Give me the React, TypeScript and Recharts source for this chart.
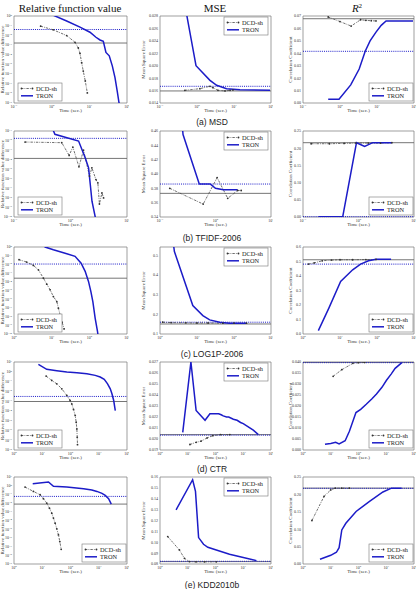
import React from 'react';
import { LineChart, Line, XAxis, YAxis, ReferenceLine, ReferenceArea } from 'recharts';

type Pt = [number, number];

const SERIF = "'Liberation Serif', 'DejaVu Serif', serif";
const SANS = "'Liberation Sans', 'DejaVu Sans', sans-serif";
const BLUE = '#1c1cc8';
const GREY = '#4a4a4a';

// ---------- (a) MSD ----------
const msdTime = [0.1, 1, 10, 100];
const msdRelTicks = [1, 1e-1, 1e-2, 1e-3, 1e-4, 1e-5, 1e-6, 1e-7, 1e-8, 1e-9];
const msdRelDcd: Pt[] = [[0.51, 0.089], [1.1, 0.037], [2.5, 0.0095], [4.17, 0.0019], [5.1, 4.9e-4], [5.65, 1.35e-4], [6.25, 1.5e-5], [6.9, 2e-6], [7.8, 1.9e-7], [8.85, 1.1e-8]];
const msdRelTron: Pt[] = [[0.9, 1.7], [2.5, 0.3], [5.65, 0.07], [10.4, 0.021], [15, 0.0063], [19.2, 0.0033], [23.5, 0.0024], [27.6, 1.7e-4], [33.8, 7.6e-5], [40.7, 6.9e-6], [48, 4.2e-7], [55, 1.7e-8], [61.5, 1e-9], [64, 4.5e-10]];
const msdRelRefs = [0.04, 0.0016];
const msdMseTicks = [0.014, 0.016, 0.018, 0.02, 0.022, 0.024, 0.026, 0.028];
const msdMseDcd: Pt[] = [[0.47, 0.01604], [1.2, 0.01631], [2.24, 0.01669], [2.7, 0.01647], [3.7, 0.01604], [5.7, 0.01594], [7.8, 0.01604], [9.4, 0.0161]];
const msdMseTron: Pt[] = [[0.48, 0.0295], [0.94, 0.02], [2.24, 0.01765], [3.4, 0.01685], [6.3, 0.01631], [14.5, 0.01615], [94, 0.01604]];
const msdMseRefs = [0.01669, 0.01594];
const msdR2Ticks = [0, 0.01, 0.02, 0.03, 0.04, 0.05, 0.06, 0.07];
const msdR2Dcd: Pt[] = [[0.48, 0.0692], [1.0, 0.0655], [2.0, 0.0619], [3.6, 0.067], [5, 0.0665], [7, 0.0662], [9.4, 0.066]];
const msdR2Tron: Pt[] = [[0.48, 0.003], [0.94, 0.003], [1.95, 0.0146], [3.3, 0.0273], [4.8, 0.0416], [6.5, 0.05], [9.4, 0.057], [13, 0.0625], [17.6, 0.066], [94, 0.066]];
const msdR2Refs = [0.0416, 0.0678];

// ---------- (b) TFIDF-2006 ----------
const tfidfTime = [0.1, 1, 10];
const tfidfRelTicks = [1e-1, 1e-2, 1e-3, 1e-4, 1e-5, 1e-6, 1e-7, 1e-8, 1e-9, 1e-10];
const tfidfRelDcd: Pt[] = [[0.157, 0.007], [0.7, 0.006], [0.946, 2.8e-4], [1.1, 2.1e-3], [1.41, 1.8e-5], [1.7, 1e-3], [2.17, 1.9e-6], [2.39, 1.4e-5], [2.82, 8.3e-7], [3.05, 3.7e-7], [3.25, 2.3e-9], [3.6, 3.3e-8], [3.85, 1e-8]];
const tfidfRelTron: Pt[] = [[0.47, 0.22], [0.5, 0.1], [0.53, 0.045], [1.39, 0.0089], [1.82, 1.6e-4], [2.09, 1.4e-5], [2.24, 2.5e-7], [2.4, 4.5e-9], [2.74, 1e-10], [2.8, 5e-11]];
const tfidfRelRefs = [0.017, 1.35e-4];
const tfidfMseTicks = [0.34, 0.36, 0.38, 0.4, 0.42, 0.44, 0.46];
const tfidfMseDcd: Pt[] = [[0.15, 0.38], [0.6, 0.358], [1.07, 0.395], [1.66, 0.366], [2.5, 0.377], [2.9, 0.377]];
const tfidfMseTron: Pt[] = [[0.25, 0.47], [0.26, 0.455], [0.51, 0.386], [0.8, 0.386], [1.0, 0.38], [1.38, 0.378], [2.5, 0.378]];
const tfidfMseRefs = [0.386, 0.373];
const tfidfR2Ticks = [0, 0.05, 0.1, 0.15, 0.2, 0.25];
const tfidfR2Dcd: Pt[] = [[0.14, 0.213], [0.3, 0.213], [0.55, 0.214], [0.9, 0.215], [1.5, 0.215], [2.5, 0.215], [4, 0.216]];
const tfidfR2Tron: Pt[] = [[0.19, 0.001], [0.52, 0.001], [0.92, 0.216], [1.29, 0.205], [1.8, 0.216], [4, 0.216]];
const tfidfR2Refs = [0.001, 0.216];

// ---------- (c) LOG1P-2006 ----------
const log1pTime = [1, 10, 100, 1000];
const log1pRelTicks = [1, 1e-1, 1e-2, 1e-3, 1e-4, 1e-5, 1e-6, 1e-7, 1e-8, 1e-9, 1e-10];
const log1pRelDcd: Pt[] = [[1.36, 0.035], [2.17, 0.0186], [3.27, 0.0077], [4.44, 0.0024], [6.04, 2.6e-4], [7.4, 5.4e-5], [9.1, 1.2e-5], [11.1, 2e-6], [13.7, 5.4e-7], [15.1, 9.1e-8], [16.8, 1.6e-8], [19, 2.2e-9], [21.4, 3.8e-10]];
const log1pRelTron: Pt[] = [[6.0, 1.9], [6.7, 1], [11.1, 0.49], [25.2, 0.17], [41.8, 0.084], [60.5, 0.014], [77.5, 1.6e-3], [95, 1.1e-4], [110, 7.6e-6], [124, 5.4e-7], [143, 6.4e-9], [165, 1.9e-10], [172, 5e-11]];
const log1pRelRefs = [0.011, 2.6e-4];
const log1pMseTicks = [0.1, 0.2, 0.3, 0.4, 0.5];
const log1pMseDcd: Pt[] = [[1.18, 0.16], [2, 0.158], [5, 0.157], [10, 0.156], [20, 0.156], [50, 0.155], [100, 0.155], [218, 0.155]];
const log1pMseTron: Pt[] = [[2.3, 0.56], [2.45, 0.52], [7.7, 0.245], [14.4, 0.194], [22, 0.172], [41, 0.16], [76, 0.155], [218, 0.155]];
const log1pMseRefs = [0.16, 0.151];
const log1pR2Ticks = [0, 0.1, 0.2, 0.3, 0.4, 0.5, 0.6];
const log1pR2Dcd: Pt[] = [[1.4, 0.482], [2, 0.49], [3.3, 0.505], [6, 0.51], [10, 0.512], [22, 0.512], [50, 0.513], [94, 0.514]];
const log1pR2Tron: Pt[] = [[2.6, 0.023], [5, 0.178], [10.4, 0.362], [22, 0.443], [36, 0.482], [59, 0.505], [94, 0.515], [240, 0.515]];
const log1pR2Refs = [0.482, 0.512];

// ---------- (d) CTR ----------
const ctrTime = [1, 10, 100, 1000, 10000];
const ctrRelTicks = [10, 1, 1e-1, 1e-2, 1e-3, 1e-4, 1e-5, 1e-6, 1e-7, 1e-8];
const ctrRelDcd: Pt[] = [[13.7, 0.365], [21.7, 0.13], [32.7, 0.059], [49.2, 0.018], [74, 0.0038], [97, 0.00116], [111, 5.2e-4], [128, 1.4e-4], [147, 3.3e-5], [159, 6.9e-6], [168, 1.4e-6], [173, 2e-7], [177, 3.5e-8]];
const ctrRelTron: Pt[] = [[7.3, 5.8], [14.4, 1.77], [32.7, 1.29], [74, 0.94], [168, 0.8], [380, 0.63], [750, 0.43], [1125, 0.29], [1565, 0.166], [2050, 0.059], [2560, 0.018], [2930, 0.0056], [3380, 0.00115], [3850, 1.07e-4]];
const ctrRelRefs = [0.003, 9.1e-4];
const ctrMseTicks = [0.019, 0.02, 0.021, 0.022, 0.023, 0.024, 0.025, 0.026, 0.027];
const ctrMseDcd: Pt[] = [[12, 0.0195], [20, 0.0197], [30, 0.0198], [50, 0.0201], [80, 0.0203], [150, 0.0204], [330, 0.0204]];
const ctrMseTron: Pt[] = [[6.6, 0.0206], [13, 0.027], [20, 0.0226], [42, 0.0217], [63, 0.0223], [110, 0.0223], [130, 0.0223], [160, 0.0222], [190, 0.0221], [250, 0.022], [300, 0.022], [440, 0.0218], [600, 0.0217], [800, 0.0215], [1000, 0.0214], [2300, 0.0208], [3500, 0.0204]];
const ctrMseRefs = [0.02035, 0.0204];
const ctrR2Ticks = [0, 0.005, 0.01, 0.015, 0.02, 0.025, 0.03, 0.035, 0.04];
const ctrR2Dcd: Pt[] = [[12.2, 0.0335], [25, 0.0365], [63, 0.0394], [100, 0.0397], [166, 0.0398]];
const ctrR2Tron: Pt[] = [[6.2, 0.0026], [10, 0.003], [15, 0.0035], [20, 0.0028], [33, 0.0042], [47, 0.0085], [81, 0.017], [120, 0.0185], [190, 0.0208], [300, 0.0232], [445, 0.0255], [700, 0.0285], [1020, 0.0317], [1500, 0.0345], [2090, 0.0371], [3650, 0.0397]];
const ctrR2Refs = [0.0397, 0.0398];

// ---------- (e) KDD2010b ----------
const kddTime = [1, 10, 100, 1000, 10000];
const kddRelTicks = [10, 1, 1e-1, 1e-2, 1e-3, 1e-4, 1e-5, 1e-6, 1e-7, 1e-8, 1e-9];
const kddRelDcd: Pt[] = [[2.46, 0.7], [4.86, 0.22], [8.4, 0.091], [11, 0.032], [14.4, 0.01], [18, 0.0026], [21.7, 7e-4], [24.9, 1.9e-4], [28.6, 4.9e-5], [32.7, 1.1e-5], [37.5, 2.2e-6], [41.8, 3.8e-7], [46.8, 4.9e-8]];
const kddRelTron: Pt[] = [[4.6, 1.7], [16.6, 2.65], [24.9, 0.84], [74, 0.7], [290, 0.45], [570, 0.32], [860, 0.22], [1300, 0.13], [1700, 0.077], [2230, 0.032], [2780, 0.0077]];
const kddRelRefs = [0.059, 0.0077];
const kddMseTicks = [0.08, 0.09, 0.1, 0.11, 0.12, 0.13, 0.14, 0.15, 0.16];
const kddMseDcd: Pt[] = [[1.9, 0.1052], [5, 0.0929], [7.6, 0.0852], [11.5, 0.0822], [20, 0.082], [40, 0.082], [107, 0.082]];
const kddMseTron: Pt[] = [[3.8, 0.1298], [15, 0.1575], [19, 0.1468], [24.6, 0.1043], [37, 0.0981], [53, 0.0954], [107, 0.0929], [320, 0.0889], [1000, 0.0859], [3000, 0.0831]];
const kddMseRefs = [0.0825, 0.0822];
const kddR2Ticks = [0, 0.05, 0.1, 0.15, 0.2, 0.25];
const kddR2Dcd: Pt[] = [[2.1, 0.125], [5.7, 0.194], [10, 0.213], [14.5, 0.218], [25, 0.218], [47, 0.218]];
const kddR2Tron: Pt[] = [[4.1, 0.0135], [10, 0.025], [16, 0.0337], [20, 0.047], [25, 0.098], [35, 0.117], [82, 0.151], [250, 0.18], [760, 0.207], [1540, 0.218], [3600, 0.218]];
const kddR2Refs = [0.2175, 0.218];

const captions = ['(a) MSD', '(b) TFIDF-2006', '(c) LOG1P-2006', '(d) CTR', '(e) KDD2010b'];
const yTitles = ['Relative function value difference', 'Mean Square Error', 'Correlation Coefficient'];

// plot-area geometry
const colLeft = [14, 160, 303];
const colWidth = [113, 111, 111];
const rowTop = [16, 131, 247, 362, 477];
const rowHeight = [87, 86, 87, 88, 87];
const captionY = [125, 241, 357, 472, 588];
const YW = 16;
const XH = 8;
const PAD = 2;

type LegendPos = 'll' | 'ur' | 'lr';

interface PanelDef {
  row: number;
  col: number;
  xTicks: number[];
  yTicks: number[];
  yLog?: boolean;
  yDec?: number;
  yTop?: number;
  dcd: Pt[];
  tron: Pt[];
  refs: number[]; // [blue dotted, black solid]
  legend: LegendPos;
}

const panels: PanelDef[] = [
  { row: 0, col: 0, xTicks: msdTime, yTicks: msdRelTicks, yLog: true, dcd: msdRelDcd, tron: msdRelTron, refs: msdRelRefs, legend: 'll' },
  { row: 0, col: 1, xTicks: msdTime, yTicks: msdMseTicks, yDec: 3, dcd: msdMseDcd, tron: msdMseTron, refs: msdMseRefs, legend: 'ur' },
  { row: 0, col: 2, xTicks: msdTime, yTicks: msdR2Ticks, yDec: 2, dcd: msdR2Dcd, tron: msdR2Tron, refs: msdR2Refs, legend: 'lr' },
  { row: 1, col: 0, xTicks: tfidfTime, yTicks: tfidfRelTicks, yLog: true, dcd: tfidfRelDcd, tron: tfidfRelTron, refs: tfidfRelRefs, legend: 'll' },
  { row: 1, col: 1, xTicks: tfidfTime, yTicks: tfidfMseTicks, yDec: 2, dcd: tfidfMseDcd, tron: tfidfMseTron, refs: tfidfMseRefs, legend: 'ur' },
  { row: 1, col: 2, xTicks: tfidfTime, yTicks: tfidfR2Ticks, yDec: 2, dcd: tfidfR2Dcd, tron: tfidfR2Tron, refs: tfidfR2Refs, legend: 'lr' },
  { row: 2, col: 0, xTicks: log1pTime, yTicks: log1pRelTicks, yLog: true, dcd: log1pRelDcd, tron: log1pRelTron, refs: log1pRelRefs, legend: 'll' },
  { row: 2, col: 1, xTicks: log1pTime, yTicks: log1pMseTicks, yDec: 1, yTop: 0.543, dcd: log1pMseDcd, tron: log1pMseTron, refs: log1pMseRefs, legend: 'ur' },
  { row: 2, col: 2, xTicks: log1pTime, yTicks: log1pR2Ticks, yDec: 1, dcd: log1pR2Dcd, tron: log1pR2Tron, refs: log1pR2Refs, legend: 'lr' },
  { row: 3, col: 0, xTicks: ctrTime, yTicks: ctrRelTicks, yLog: true, dcd: ctrRelDcd, tron: ctrRelTron, refs: ctrRelRefs, legend: 'll' },
  { row: 3, col: 1, xTicks: ctrTime, yTicks: ctrMseTicks, yDec: 3, dcd: ctrMseDcd, tron: ctrMseTron, refs: ctrMseRefs, legend: 'ur' },
  { row: 3, col: 2, xTicks: ctrTime, yTicks: ctrR2Ticks, yDec: 3, dcd: ctrR2Dcd, tron: ctrR2Tron, refs: ctrR2Refs, legend: 'lr' },
  { row: 4, col: 0, xTicks: kddTime, yTicks: kddRelTicks, yLog: true, dcd: kddRelDcd, tron: kddRelTron, refs: kddRelRefs, legend: 'lr' },
  { row: 4, col: 1, xTicks: kddTime, yTicks: kddMseTicks, yDec: 2, dcd: kddMseDcd, tron: kddMseTron, refs: kddMseRefs, legend: 'ur' },
  { row: 4, col: 2, xTicks: kddTime, yTicks: kddR2Ticks, yDec: 2, dcd: kddR2Dcd, tron: kddR2Tron, refs: kddR2Refs, legend: 'lr' },
];

const expText = (v: number) => {
  const k = Math.round(Math.log10(v));
  return k < 0 ? '\u2212' + -k : String(k);
};

const powTick = (anchor: 'middle' | 'end', dy: number) => (props: any) => {
  const { x, y, payload } = props;
  return (
    <text x={x} y={y} dy={dy} textAnchor={anchor} fontSize={4} fontFamily={SERIF} fill="#333">
      10<tspan dy={-1.5} fontSize={2.8}>{expText(payload.value)}</tspan>
    </text>
  );
};

const numTick = (dec: number) => (props: any) => {
  const { x, y, payload } = props;
  return (
    <text x={x} y={y} dy={1.4} textAnchor="end" fontSize={4} fontFamily={SERIF} fill="#333">
      {Number(payload.value).toFixed(dec)}
    </text>
  );
};

const toRows = (pts: Pt[]) => pts.map(([t, v]) => ({ t, v }));

function Panel({ p }: { p: PanelDef }) {
  const w = colWidth[p.col];
  const h = rowHeight[p.row];
  const xd: [number, number] = [Math.min(...p.xTicks), Math.max(...p.xTicks)];
  const yd: [number, number] = [Math.min(...p.yTicks), p.yTop ?? Math.max(...p.yTicks)];
  return (
    <div style={{ position: 'absolute', left: colLeft[p.col] - YW, top: rowTop[p.row] - PAD }}>
      <LineChart width={w + YW + PAD} height={h + PAD + XH} margin={{ top: PAD, right: PAD, left: 0, bottom: 0 }}>
        <XAxis
          type="number"
          dataKey="t"
          scale="log"
          domain={xd}
          ticks={p.xTicks}
          interval={0}
          allowDataOverflow
          axisLine={false}
          tickLine={false}
          tickSize={1}
          tickMargin={1}
          height={XH}
          tick={powTick('middle', 2.6)}
        />
        <YAxis
          type="number"
          dataKey="v"
          scale={p.yLog ? 'log' : 'linear'}
          domain={yd}
          ticks={p.yTicks}
          interval={0}
          allowDataOverflow
          axisLine={false}
          tickLine={false}
          tickSize={1}
          tickMargin={1}
          width={YW}
          tick={p.yLog ? powTick('end', 1.4) : numTick(p.yDec ?? 2)}
        />
        <ReferenceLine y={p.refs[1]} stroke="#666" strokeWidth={0.9} />
        <ReferenceLine y={p.refs[0]} stroke={BLUE} strokeWidth={1} strokeDasharray="1 1.1" />
        <Line
          data={toRows(p.dcd)}
          dataKey="v"
          type="linear"
          stroke={GREY}
          strokeWidth={0.8}
          strokeDasharray="2.4 1.1 0.8 1.1"
          dot={{ r: 0.9, fill: '#333', stroke: 'none' }}
          isAnimationActive={false}
        />
        <Line
          data={toRows(p.tron)}
          dataKey="v"
          type="linear"
          stroke={BLUE}
          strokeWidth={1.5}
          dot={false}
          isAnimationActive={false}
        />
        <ReferenceArea x1={xd[0]} x2={xd[1]} y1={yd[0]} y2={yd[1]} fill="none" stroke="#777" strokeWidth={0.7} />
      </LineChart>
    </div>
  );
}

function LegendBox({ p }: { p: PanelDef }) {
  const l = colLeft[p.col];
  const r = l + colWidth[p.col];
  const t = rowTop[p.row];
  const b = t + rowHeight[p.row];
  const x = p.legend === 'll' ? l + 4 : p.legend === 'ur' ? r - 47 : r - 45;
  const y = p.legend === 'ur' ? t + 1 : b - 20;
  return (
    <g>
      <rect x={x} y={y} width={44} height={18} fill="#fff" stroke="#777" strokeWidth={0.6} />
      <line x1={x + 3} x2={x + 15} y1={y + 5.5} y2={y + 5.5} stroke={GREY} strokeWidth={0.8} strokeDasharray="2.4 1.1 0.8 1.1" />
      <circle cx={x + 3.5} cy={y + 5.5} r={0.9} fill="#333" />
      <circle cx={x + 14.5} cy={y + 5.5} r={0.9} fill="#333" />
      <text x={x + 18} y={y + 7.7} fontSize={6.3} fontFamily={SERIF} fill="#222">DCD-sh</text>
      <line x1={x + 3} x2={x + 15} y1={y + 12.8} y2={y + 12.8} stroke={BLUE} strokeWidth={1.5} />
      <text x={x + 18} y={y + 15} fontSize={6.3} fontFamily={SERIF} fill="#222">TRON</text>
    </g>
  );
}

export default function App() {
  return (
    <div style={{ position: 'absolute', left: 0, top: 0, width: 420, height: 589, background: '#fff', overflow: 'hidden' }}>
      {panels.map((p) => (
        <Panel key={`${p.row}-${p.col}`} p={p} />
      ))}
      <svg width={420} height={589} style={{ position: 'absolute', left: 0, top: 0, pointerEvents: 'none' }}>
        <text x={70} y={11.5} textAnchor="middle" fontSize={11} fontFamily={SERIF} fill="#111">Relative function value</text>
        <text x={215} y={11.5} textAnchor="middle" fontSize={11} fontFamily={SERIF} fill="#111">MSE</text>
        <text x={357} y={11.5} textAnchor="middle" fontSize={11} fontFamily={SERIF} fill="#111">
          <tspan fontStyle="italic">R</tspan>
          <tspan dy={-4} fontSize={7}>2</tspan>
        </text>
        {rowTop.map((t, r) => (
          <g key={r}>
            {colLeft.map((l, c) => (
              <g key={c}>
                <text x={l + colWidth[c] / 2} y={t + rowHeight[r] + 8.8} textAnchor="middle" fontSize={5} fontFamily={SERIF} fill="#333">
                  Time (sec.)
                </text>
                <text
                  transform={`translate(${l - [10.5, 15, 11][c]}, ${t + rowHeight[r] / 2}) rotate(-90)`}
                  textAnchor="middle"
                  fontSize={5}
                  fontFamily={SERIF}
                  fill="#333"
                >
                  {yTitles[c]}
                </text>
              </g>
            ))}
            <text x={212} y={captionY[r]} textAnchor="middle" fontSize={8.5} fontFamily={SANS} fill="#222">
              {captions[r]}
            </text>
          </g>
        ))}
        {panels.map((p) => (
          <LegendBox key={`lg-${p.row}-${p.col}`} p={p} />
        ))}
      </svg>
    </div>
  );
}
